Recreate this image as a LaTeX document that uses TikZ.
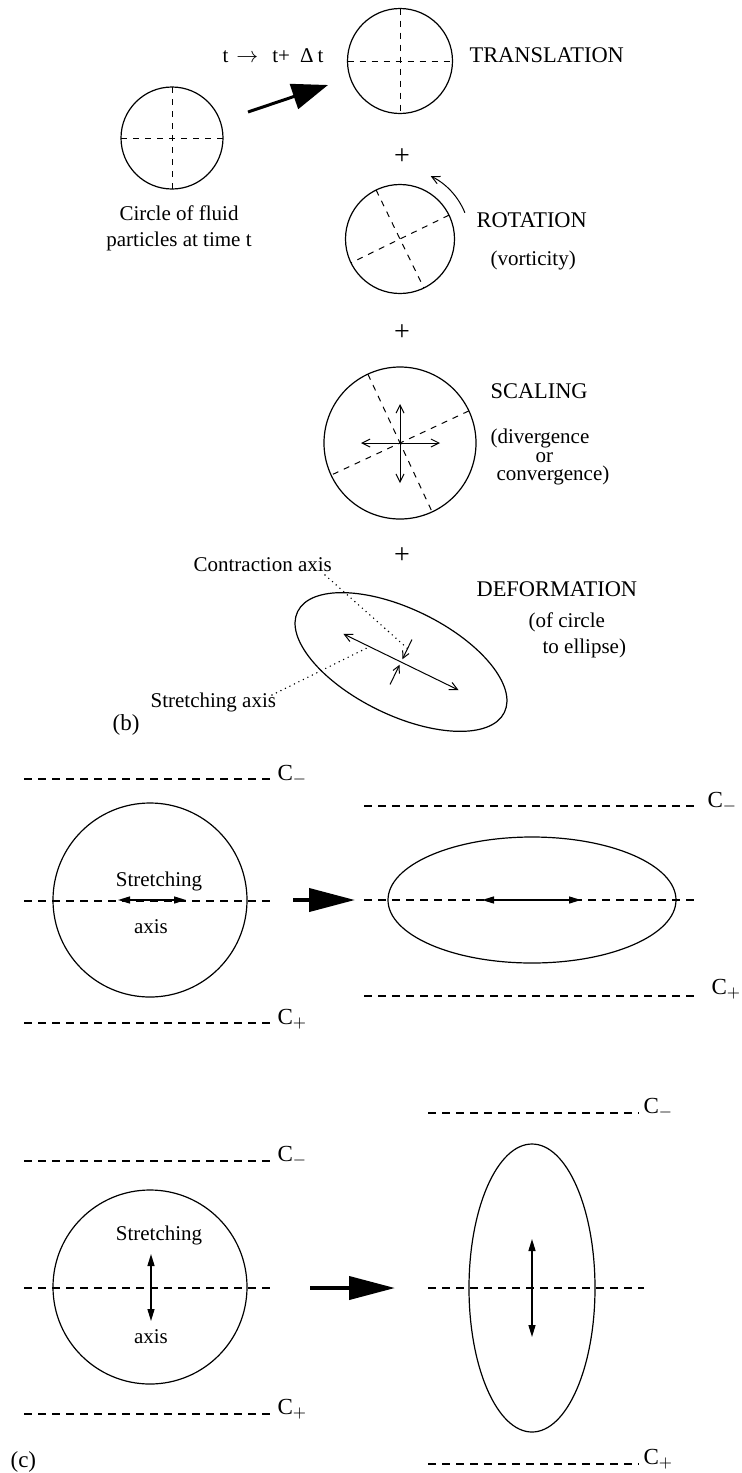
\documentclass[tikz,border=0pt]{standalone}
\usepackage{fontspec}
\setmainfont{Liberation Serif}
\usetikzlibrary{arrows.meta,calc,shapes.geometric}

\begin{document}
\begin{tikzpicture}[x=0.5pt,y=0.5pt,line width=0.6pt,
    txt/.style={anchor=base west,inner sep=0,font=\fontsize{10.5}{12}\selectfont},
    caps/.style={anchor=base west,inner sep=0,font=\fontsize{11.2}{12}\selectfont},
    lvl/.style={anchor=base west,inner sep=0,font=\fontsize{11.5}{12}\selectfont},
    plus/.style={inner sep=0,font=\fontsize{14}{14}\selectfont},
    disc/.style={circle,draw,inner sep=0,outer sep=0},
    crossdash/.style={line width=0.5pt,dash pattern=on 3pt off 3pt},
    levelline/.style={dash pattern=on 4pt off 3pt},
    barbs/.style={line width=0.5pt,{Straight Barb[length=4pt,width=4pt]}-{Straight Barb[length=4pt,width=4pt]}},
    solidtips/.style={line width=0.7pt,{Triangle[length=6pt,width=3.5pt]}-{Triangle[length=6pt,width=3.5pt]}},
    bigarrow/.style={line width=2pt,-{Triangle[length=23pt,width=11.5pt]}},
    pointer/.style={line width=0.8pt,line cap=round,dash pattern=on 0pt off 2.5pt}]
\useasboundingbox (0,0) rectangle (742,-1473);

% (b) the four parts of the motion
\node[disc,minimum size=51pt] (start) at (172,-138) {};
\draw[crossdash] (start.north) -- (start.south);
\draw[crossdash] (start.west) -- (start.east);
\node[txt,anchor=base] at (179,-220) {Circle of fluid};
\node[txt,anchor=base] at (179,-246) {particles at time t};

\coordinate (push0) at (248,-112);
\coordinate (push1) at (328,-85);
\draw[line width=1.5pt,-{Triangle[length=18pt,width=13pt]}] (push0) -- (push1);
\node[txt] at (222,-62) {t\hspace{4pt}$\rightarrow$\hspace{7pt}t+\hspace{5pt}Δ\hspace{2pt}t};

\node[disc,minimum size=52.5pt] (trans) at (400,-61) {};
\draw[crossdash] (trans.north) -- (trans.south);
\draw[crossdash] (trans.west) -- (trans.east);
\node[caps] at (469,-62) {TRANSLATION};

\node[plus] at (402,-157) {+};

\node[disc,minimum size=54.5pt] (rot) at (400,-239) {};
\draw[crossdash] (rot.116) -- (rot.-64);
\draw[crossdash] (rot.26) -- (rot.206);
\draw[line width=0.5pt,-{Straight Barb[length=4pt,width=4pt]}] ($(rot)+(22:70)$) arc (22:64:70);
\node[caps] at (476,-227) {ROTATION};
\node[txt] at (490,-265) {(vorticity)};

\node[plus] at (402,-333) {+};

\node[disc,minimum size=76pt] (scal) at (400,-443) {};
\draw[crossdash] (scal.115) -- (scal.-65);
\draw[crossdash] (scal.25) -- (scal.205);
\draw[barbs] (361,-443) -- (440,-443);
\draw[barbs] (400,-404) -- (400,-483);
\node[caps] at (490,-398) {SCALING};
\node[txt] at (490,-443) {(divergence};
\node[txt] at (535,-462) {or};
\node[txt] at (496,-480) {convergence)};

\node[plus] at (402,-556) {+};

\coordinate (dc) at (401,-662);
\draw[rotate around={-26:(dc)}] (dc) ellipse (115 and 53);
\draw[barbs] ($(dc)+(154:64)$) -- ($(dc)+(-26:64)$);
\draw[line width=0.5pt,-{Straight Barb[length=3.5pt,width=3.5pt]}] ($(dc)+(64:25)$) -- ($(dc)+(64:3)$);
\draw[line width=0.5pt,-{Straight Barb[length=3.5pt,width=3.5pt]}] ($(dc)+(244:25)$) -- ($(dc)+(244:3)$);
\node[txt] (contr) at (193,-571) {Contraction axis};
\node[txt] (stret) at (150,-707) {Stretching axis};
\draw[pointer] (325,-575) -- ($(dc)+(64:15)$);
\draw[pointer] (272,-695) -- ($(dc)+(154:35)$);
\node[caps] at (476,-596) {DEFORMATION};
\node[txt] at (528,-627) {(of circle};
\node[txt] at (542,-653) {to ellipse)};
\node[lvl] at (112,-730) {(b)};

% stretching along the level lines
\foreach \y in {-779,-901,-1023} \draw[levelline] (24,\y) -- (272,\y);
\node[lvl] at (277,-780) {C$_{-}$};
\node[lvl] at (277,-1024) {C$_{+}$};
\node[disc,minimum size=97pt] (c1) at (150,-900) {};
\node[txt,anchor=base] at (159,-886) {Stretching};
\node[txt,anchor=base] at (151,-933) {axis};
\draw[solidtips] (118,-900) -- (186,-900);
\coordinate (go1a) at (293,-900);
\coordinate (go1b) at (355,-900);
\draw[bigarrow] (go1a) -- (go1b);
\foreach \y in {-806,-900,-996} \draw[levelline] (364,\y) -- (698,\y);
\node[lvl] at (707,-807) {C$_{-}$};
\node[lvl] at (711,-994) {C$_{+}$};
\draw (532,-900) ellipse (144 and 63);
\draw[solidtips] (482,-900) -- (581,-900);

% (c) stretching across the level lines
\foreach \y in {-1161,-1288,-1414} \draw[levelline] (24,\y) -- (272,\y);
\node[lvl] at (277,-1161) {C$_{-}$};
\node[lvl] at (277,-1414) {C$_{+}$};
\node[disc,minimum size=97pt] (c2) at (150,-1287) {};
\node[txt,anchor=base] at (159,-1240) {Stretching};
\node[txt,anchor=base] at (151,-1343) {axis};
\draw[solidtips] (151,-1254) -- (151,-1321);
\coordinate (go2a) at (310,-1288);
\coordinate (go2b) at (395,-1288);
\draw[bigarrow] (go2a) -- (go2b);
\draw[levelline] (428,-1113) -- (639,-1113);
\draw[levelline] (428,-1288) -- (644,-1288);
\draw[levelline] (428,-1464) -- (639,-1464);
\node[lvl] at (643,-1113) {C$_{-}$};
\node[lvl] at (643,-1464) {C$_{+}$};
\draw (532,-1288) ellipse (63 and 144);
\draw[solidtips] (532,-1239) -- (532,-1337);
\node[lvl] at (10,-1467) {(c)};
\end{tikzpicture}
\end{document}
